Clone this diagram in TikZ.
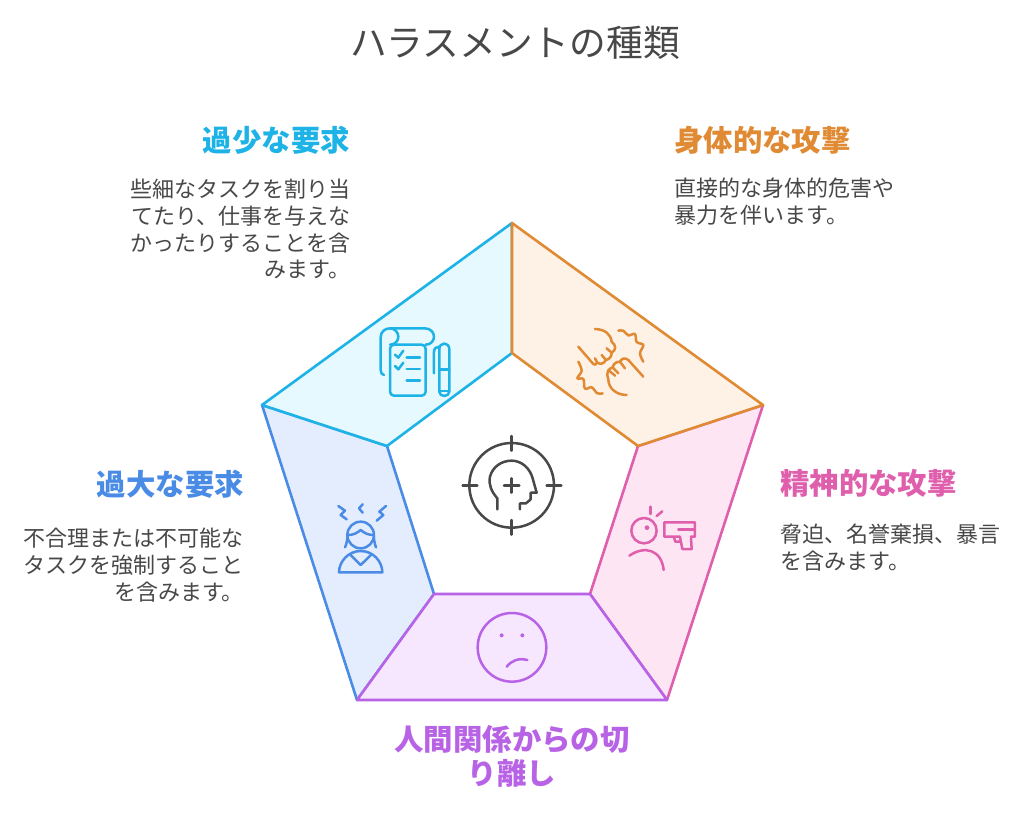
\documentclass[tikz,border=0pt]{standalone}
\usepackage{fontspec}
\setmainfont{Noto Sans CJK JP}
\definecolor{cy}{HTML}{1DB3E6}\definecolor{cyf}{HTML}{E6F9FF}
\definecolor{orr}{HTML}{E08A33}\definecolor{orf}{HTML}{FEF1E6}
\definecolor{pk}{HTML}{DF5FAD}\definecolor{pkf}{HTML}{FDE5F4}
\definecolor{pu}{HTML}{B863E6}\definecolor{puf}{HTML}{F6E7FE}
\definecolor{bl}{HTML}{4A8BE6}\definecolor{blf}{HTML}{E4EDFE}
\definecolor{ink}{HTML}{484848}
\tikzset{
 seg/.style={line width=2.6pt,line join=round},
 ico/.style={line width=2.5pt,line cap=round,line join=round},
 titletext/.style={inner sep=0pt,text=ink,font=\fontsize{36.7}{44}\selectfont},
 headtext/.style={inner sep=0pt,font=\fontsize{29.4}{34}\selectfont\bfseries},
 bodytext/.style={inner sep=0pt,text=ink,font=\fontsize{22}{26.7}\selectfont},
 zoomed/.style={x=0.3333pt,y=-0.3333pt},
}
\begin{document}
\begin{tikzpicture}[x=1pt,y=-1pt]
\useasboundingbox (0,0) rectangle (1024,812);
\fill[white] (0,0) rectangle (1024,812);
% pentagon coordinates
\coordinate (o1) at (512,223);\coordinate (o2) at (763,405);\coordinate (o3) at (667,700);\coordinate (o4) at (357,700);\coordinate (o5) at (262,405);
\coordinate (i1) at (512,353);\coordinate (i2) at (638,446);\coordinate (i3) at (590,594);\coordinate (i4) at (434,594);\coordinate (i5) at (387,446);
\draw[seg,draw=bl,fill=blf] (o5)--(i5)--(i4)--(o4)--cycle;
\draw[seg,draw=cy,fill=cyf] (o1)--(i1)--(i5)--(o5)--cycle;
\draw[seg,draw=pk,fill=pkf] (o2)--(i2)--(i3)--(o3)--cycle;
\draw[seg,draw=orr,fill=orf] (o1)--(i1)--(i2)--(o2)--cycle;
\draw[seg,draw=pu,fill=puf] (i3)--(i4)--(o4)--(o3)--cycle;
% checklist and fists
\begin{scope}[xshift=360pt,yshift=-310pt,zoomed]
\begin{scope}[ico,cy]
\draw (72,195) .. controls (66,195) and (62,188) .. (62,180) -- (62,82) .. controls (62,65) and (75,55) .. (90,55) -- (195,55) .. controls (212,55) and (222,68) .. (222,80) .. controls (222,93) and (212,104) .. (197,104);
\draw (90,55) .. controls (105,55) and (115,68) .. (115,80) .. controls (115,93) and (105,104) .. (90,104);
\draw[rounded corners=4pt] (90,104) -- (197,104) -- (197,257) -- (90,257) -- cycle;
\draw (105,134)--(115,143)--(130,122);
\draw (105,168)--(115,178)--(130,158);
\draw (140,142)--(180,142);\draw (140,177)--(180,177);\draw (140,212)--(180,212);
\draw (238,118) .. controls (238,95) and (268,95) .. (268,118) -- (268,245) .. controls (268,262) and (238,262) .. (238,245) -- cycle;
\draw (222,190) -- (222,125) .. controls (222,115) and (230,110) .. (238,110);
\draw (238,178)--(268,178);\draw (238,243)--(268,243);
\end{scope}
\begin{scope}[ico,orr]
\draw (705,57) .. controls (735,58) and (752,72) .. (755,95) .. controls (768,105) and (770,120) .. (755,128) .. controls (755,140) and (748,148) .. (738,150) .. controls (732,160) and (722,165) .. (712,158) .. controls (708,165) and (704,165) .. (700,162) -- (655,110);
\draw plot[smooth,tension=.6] coordinates {(775,62) (790,62) (805,76) (825,72) (830,96) (850,105) (840,130) (850,155)};
\draw (850,200) -- (805,150) .. controls (795,142) and (785,145) .. (780,155) .. controls (768,155) and (760,162) .. (758,172) .. controls (745,175) and (737,190) .. (745,208) .. controls (745,235) and (770,255) .. (800,255);
\draw (745,180) -- (765,197);\draw (758,172)--(775,190);\draw (780,155)--(795,175);
\draw (738,150)--(725,135);\draw (755,128)--(740,115);\draw (712,158)--(705,145);
\draw plot[smooth,tension=.6] coordinates {(728,250) (712,250) (695,232) (675,236) (670,207) (652,205) (665,182) (655,155)};
\end{scope}
\end{scope}
% head and woman
\begin{scope}[xshift=320pt,yshift=-420pt,zoomed]
\begin{scope}[ico,ink]
\draw (575,196) circle[radius=127];
\draw (575,48)--(575,92);\draw (575,300)--(575,344);\draw (428,196)--(472,196);\draw (680,196)--(724,196);
\draw (552,196)--(598,196);\draw (575,175)--(575,218);
\draw (532,268) -- (532,235) .. controls (515,215) and (505,195) .. (510,170) .. controls (518,140) and (545,122) .. (575,122) .. controls (605,122) and (630,145) .. (638,175) -- (650,218) -- (632,218) -- (632,238) -- (618,250) -- (600,250) -- (600,268);
\end{scope}
\begin{scope}[ico,bl]
\draw (122,345) circle[radius=40];
\draw (83,345) .. controls (100,345) and (110,340) .. (122,330) .. controls (134,340) and (145,345) .. (161,345);
\draw (83,345) .. controls (82,360) and (80,372) .. (75,382);
\draw (161,345) .. controls (162,360) and (164,372) .. (168,382);
\draw (57,457) -- (187,457) .. controls (187,425) and (160,393) .. (122,393) .. controls (85,393) and (57,425) .. (57,457) -- cycle;
\draw (90,403)--(122,435)--(155,403);
\draw (55,258)--(75,272)--(62,285)--(80,298);
\draw (198,258)--(178,275)--(190,285)--(170,302);
\draw (128,253)--(117,265)--(128,278);
\end{scope}
\end{scope}
% threat person and sad face
\begin{scope}[xshift=450pt,yshift=-490pt,zoomed]
\begin{scope}[ico,pk]
\draw (582,122) circle[radius=38];
\fill (591,113) circle[radius=7];
\draw (601,50)--(601,72);\draw (620,78)--(637,64);
\draw (538,197) .. controls (585,165) and (635,180) .. (641,240);
\draw (643,97) -- (735,97) -- (735,140) -- (723,140) -- (725,177) -- (697,177) -- (690,140) -- (643,140) -- cycle;
\draw (685,118)--(735,118);
\draw (672,142)--(676,155)--(690,155);
\end{scope}
\begin{scope}[ico,pu]
\draw (186,472) circle[radius=103];
\fill (155,436) circle[radius=6];\fill (217,436) circle[radius=6];
\draw (170,530) .. controls (185,512) and (205,503) .. (232,510);
\end{scope}
\end{scope}
% texts
\node[titletext] (title) at (515,43) {ハラスメントの種類};
\node[headtext,text=cy,anchor=east] (h1) at (350,140) {過少な要求};
\node[bodytext,anchor=north east,align=right] (b1) at (350.5,179) {些細なタスクを割り当\\てたり、仕事を与えな\\かったりすることを含\\みます。};
\node[headtext,text=orr,anchor=west] (h2) at (674,140) {身体的な攻撃};
\node[bodytext,anchor=north west,align=left] (b2) at (674,178) {直接的な身体的危害や\\暴力を伴います。};
\node[headtext,text=pk,anchor=west] (h3) at (780,483) {精神的な攻撃};
\node[bodytext,anchor=north west,align=left] (b3) at (780,524) {脅迫、名誉棄損、暴言\\を含みます。};
\node[headtext,text=bl,anchor=east] (h4) at (244,484) {過大な要求};
\node[bodytext,anchor=north east,align=right] (b4) at (244,528) {不合理または不可能な\\タスクを強制すること\\を含みます。};
\node[headtext,text=pu,anchor=north,align=center] (h5) at (512,725) {人間関係からの切\\り離し};
\end{tikzpicture}
\end{document}
